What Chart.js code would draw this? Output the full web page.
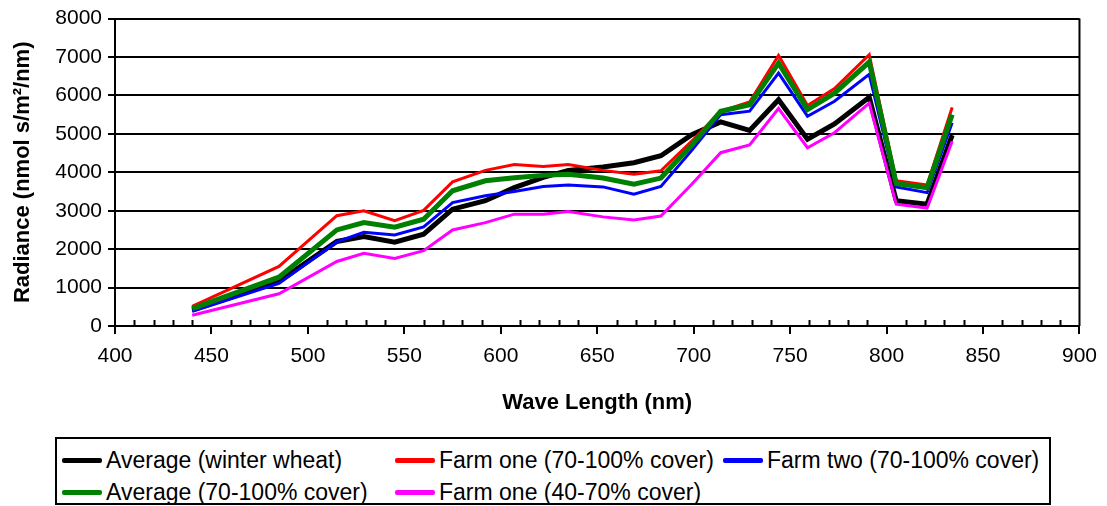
<!DOCTYPE html>
<html>
<head>
<meta charset="utf-8">
<script src="https://cdn.jsdelivr.net/npm/chart.js@4/dist/chart.umd.min.js"></script>
<style>
  body { margin: 0; background: #fff; font-family: "Liberation Sans", Arial, sans-serif; }
  #wrap { position: relative; width: 1107px; height: 506px; }
  #chart { position: absolute; left: 0; top: 0; }
  #legend {
    position: absolute; left: 55px; top: 437px; width: 992px; height: 64px;
    border: 2px solid #000; background: #fff;
  }
  .item { position: absolute; display: flex; align-items: center; font-size: 23px; color: #000; white-space: nowrap; }
  .swatch { width: 40px; height: 5px; border-radius: 2px; margin-right: 4px; }
</style>
</head>
<body>
<div id="wrap">
  <canvas id="chart" width="1107" height="430"></canvas>
  <div id="legend"></div>
</div>
<script>
// wavelengths (nm)
const waveLengths = [440, 485, 515, 529, 545, 560, 575, 592, 607, 622, 635, 653, 669, 683, 699, 714, 729, 744, 759, 773, 791, 805, 821, 834];

// radiance values
const avgWinterWheat = [410, 1160, 2200, 2330, 2180, 2390, 3040, 3260, 3600, 3870, 4050, 4140, 4250, 4430, 4980, 5310, 5090, 5890, 4860, 5260, 5950, 3260, 3170, 4970];
const farmOne70 = [510, 1550, 2870, 3000, 2740, 3010, 3750, 4050, 4200, 4150, 4200, 4050, 3950, 4040, 4810, 5590, 5830, 7040, 5740, 6180, 7060, 3780, 3670, 5690];
const farmTwo70 = [380, 1110, 2190, 2440, 2370, 2580, 3210, 3390, 3500, 3630, 3670, 3620, 3430, 3630, 4570, 5500, 5590, 6580, 5460, 5850, 6550, 3620, 3470, 5290];
const avg70 = [450, 1270, 2500, 2690, 2570, 2780, 3520, 3780, 3860, 3920, 3950, 3850, 3690, 3850, 4710, 5590, 5760, 6840, 5630, 6060, 6870, 3710, 3600, 5500];
const farmOne40 = [280, 840, 1680, 1890, 1760, 1960, 2500, 2690, 2910, 2910, 2980, 2840, 2760, 2860, 3690, 4510, 4710, 5660, 4640, 5030, 5800, 3170, 3070, 4810];

const seriesNames = ['Average (winter wheat)', 'Farm one (70-100% cover)', 'Farm two (70-100% cover)', 'Average (70-100% cover)', 'Farm one (40-70% cover)'];
const seriesValues = [avgWinterWheat, farmOne70, farmTwo70, avg70, farmOne40];
const seriesColors = ['#000000', '#ff0000', '#0000ff', '#008000', '#ff00ff'];
const seriesWidths = [5, 3, 3, 5, 3];

const xTicks = { min: 400, max: 900, step: 50, minor: 10 };
const yTicks = { min: 0, max: 8000, step: 1000 };

const toPoints = vals => vals.map((v, i) => ({ x: waveLengths[i], y: v }));

const datasets = seriesNames.map((name, i) => ({
    label: name,
    data: toPoints(seriesValues[i]),
    borderColor: seriesColors[i],
    backgroundColor: seriesColors[i],
    borderWidth: seriesWidths[i],
    pointRadius: 0,
    tension: 0,
    fill: false,
    order: seriesNames.length - i   // later series drawn on top, like Excel
}));

// minor ticks on the x axis and the right border of the plot
const frame = {
    id: 'frame',
    afterDraw(chart) {
        const ctx = chart.ctx;
        const a = chart.chartArea;
        const x = chart.scales.x;
        ctx.save();
        ctx.strokeStyle = '#000';
        ctx.lineWidth = 2;
        ctx.beginPath();
        for (let v = xTicks.min; v <= xTicks.max; v += xTicks.minor) {
            if (v % xTicks.step === 0) continue;
            const px = Math.round(x.getPixelForValue(v)) + 0.5;
            ctx.moveTo(px, a.bottom);
            ctx.lineTo(px, a.bottom - 6);
        }
        ctx.moveTo(a.right, a.top);
        ctx.lineTo(a.right, a.bottom);
        ctx.stroke();
        ctx.restore();
    }
};

const tickFont = { family: '"Liberation Sans", Arial, sans-serif', size: 21 };
const titleFont = { family: '"Liberation Sans", Arial, sans-serif', size: 22, weight: 'bold' };

const chart = new Chart(document.getElementById('chart'), {
    type: 'line',
    data: { datasets },
    options: {
        responsive: false,
        animation: false,
        layout: { padding: { left: 0, right: 25, top: 16, bottom: 0 } },
        plugins: { legend: { display: false }, tooltip: { enabled: false } },
        scales: {
            x: {
                type: 'linear',
                min: xTicks.min,
                max: xTicks.max,
                afterFit: s => { s.height = 104; },
                ticks: { stepSize: xTicks.step, color: '#000', font: tickFont, padding: 10, maxRotation: 0, callback: v => String(v) },
                grid: { drawOnChartArea: false, color: '#000', lineWidth: 2, tickLength: 8 },
                border: { color: '#000', width: 2 },
                title: { display: true, text: 'Wave Length (nm)', color: '#000', font: titleFont, padding: { top: 0, bottom: 14 } }
            },
            y: {
                min: yTicks.min,
                max: yTicks.max,
                afterFit: s => { s.width = 115; },
                ticks: { stepSize: yTicks.step, color: '#000', font: tickFont, padding: 6, callback: v => String(v) },
                grid: { color: '#000', lineWidth: 2, tickLength: 7 },
                border: { color: '#000', width: 2 },
                title: { display: true, text: 'Radiance (nmol s/m²/nm)', color: '#000', font: titleFont, padding: { top: 10, bottom: 0 } }
            }
        }
    },
    plugins: [frame]
});

// legend laid out in three columns like the original
const legendCols = [5, 338, 666];
const legendRows = [21, 53];
const legendEl = document.getElementById('legend');
chart.data.datasets.forEach((ds, i) => {
    const item = document.createElement('div');
    item.className = 'item';
    item.style.left = legendCols[i % 3] + 'px';
    item.style.top = (legendRows[Math.floor(i / 3)] - 14) + 'px';
    item.style.height = '28px';
    const sw = document.createElement('span');
    sw.className = 'swatch';
    sw.style.background = ds.borderColor;
    const tx = document.createElement('span');
    tx.textContent = ds.label;
    item.appendChild(sw);
    item.appendChild(tx);
    legendEl.appendChild(item);
});
</script>
</body>
</html>
